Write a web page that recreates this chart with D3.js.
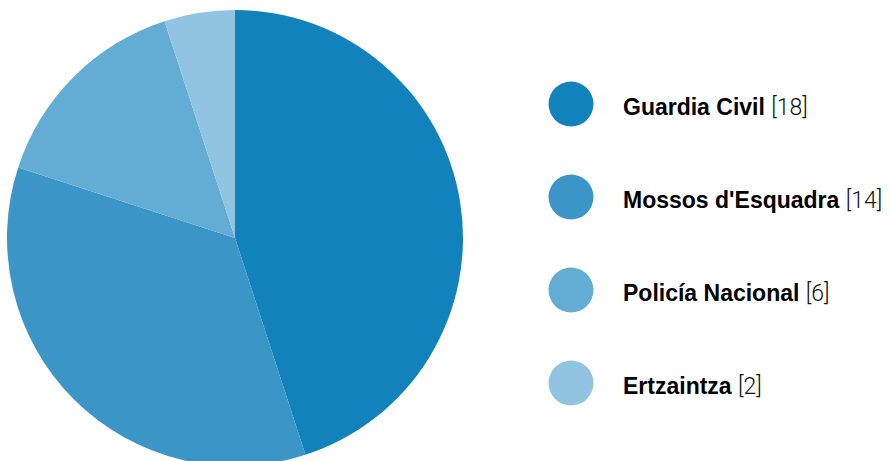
<!DOCTYPE html>
<html>
<head>
<meta charset="utf-8">
<script src="https://cdn.jsdelivr.net/npm/d3@7"></script>
<style>
  body { margin: 0; background: #fff; }
  svg { display: block; }
</style>
</head>
<body>
<div id="chart"></div>
<script>
const categories = ['Guardia Civil', "Mossos d'Esquadra", 'Policía Nacional', 'Ertzaintza']
const values = [18, 14, 6, 2]
const colors = ['#1282bc', '#3b95c7', '#63acd4', '#90c4e1']

const width = 890
const height = 461
const radius = 228

const svg = d3
  .select('#chart')
  .append('svg')
  .attr('width', width)
  .attr('height', height)

const data = categories.map((c, i) => ({ name: c, value: values[i] }))

const pie = d3.pie().sort(null).value(d => d.value)
const arc = d3.arc().innerRadius(0).outerRadius(radius)

const colorScale = d3.scaleOrdinal().domain(categories).range(colors)

const g = svg.append('g').attr('transform', 'translate(235,238)')

g.selectAll('.slice')
  .data(pie(data))
  .enter()
  .append('path')
  .attr('class', 'slice')
  .attr('d', arc)
  .attr('fill', d => colorScale(d.data.name))

// legend
const yLegend = d3.scalePoint().domain(categories).range([104, 383])

const legend = svg
  .selectAll('.legend')
  .data(data)
  .enter()
  .append('g')
  .attr('class', 'legend')
  .attr('transform', d => 'translate(571,' + yLegend(d.name) + ')')

legend
  .append('circle')
  .attr('r', 22.5)
  .attr('fill', d => colorScale(d.name))

const label = legend
  .append('text')
  .attr('x', 52)
  .attr('y', 10.5)
  .attr('font-size', 23)
  .attr('fill', '#000')

label
  .append('tspan')
  .attr('font-family', '"Liberation Sans", Arial, sans-serif')
  .attr('font-weight', 700)
  .text(d => d.name + ' ')
label
  .append('tspan')
  .attr('font-family', 'Roboto, sans-serif')
  .attr('font-weight', 300)
  .attr('fill', '#111')
  .text(d => '[' + d.value + ']')
</script>
</body>
</html>
